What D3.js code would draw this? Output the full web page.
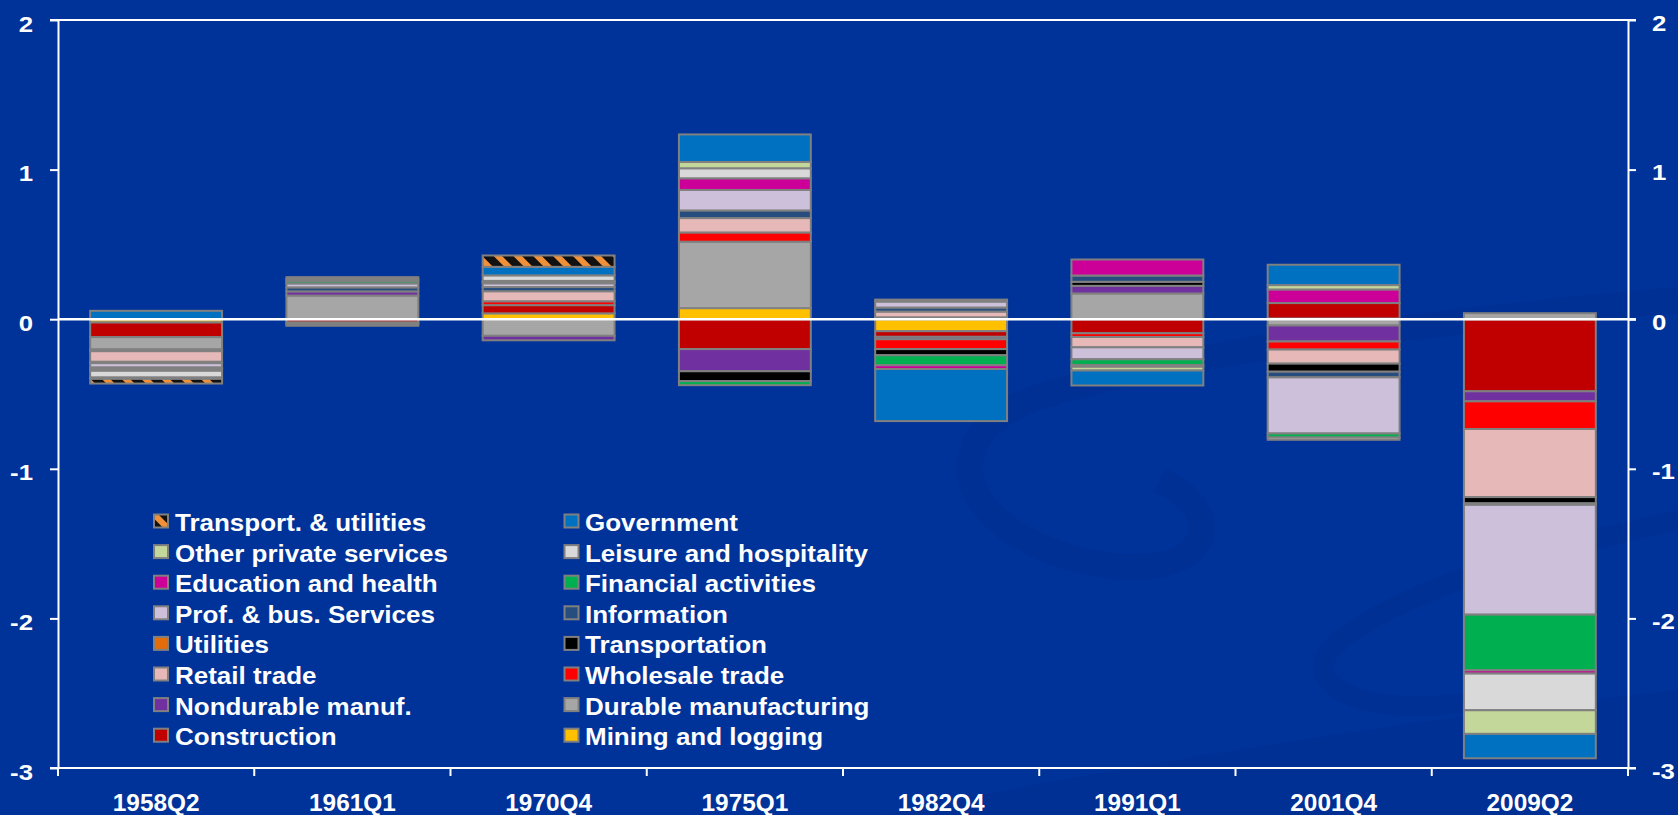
<!DOCTYPE html>
<html>
<head>
<meta charset="utf-8">
<script src="https://cdn.jsdelivr.net/npm/d3@7"></script>
<style>
  html, body { margin: 0; padding: 0; background: #003399; overflow: hidden; }
  svg { display: block; }
  text { font-family: Arial, "Liberation Sans", sans-serif; font-weight: bold; fill: #fff; }
</style>
</head>
<body>
<div id="chart"></div>
<script>
// quarters on the x axis
var quarters = ["1958Q2", "1961Q1", "1970Q4", "1975Q1", "1982Q4", "1991Q1", "2001Q4", "2009Q2"];

// contributions by sector, one value per quarter (percentage points)
var mining         = [-0.022,  0,      0.039,  0.074, -0.080,  0,      0.005,  0];
var construction   = [-0.098, -0.022,  0.055, -0.200, -0.038, -0.094,  0.103, -0.482];
var durable        = [-0.082,  0.158, -0.111,  0.444,  0.013,  0.172, -0.042,  0.040];
var nondurable     = [-0.007,  0.028, -0.030, -0.148, -0.016,  0.051, -0.107, -0.067];
var wholesale      = [-0.005, -0.010,  0.026,  0.062, -0.066, -0.025, -0.054, -0.185];
var retail         = [-0.071,  0,      0.067,  0.096,  0.038, -0.069, -0.094, -0.455];
var transportation = [ 0,      0,      0,     -0.066, -0.041,  0.027, -0.054, -0.042];
var utilities      = [ 0,      0,      0,      0,      0,      0,      0,     -0.004];
var information    = [-0.009,  0.027,  0.028,  0.051,  0.027,  0.042, -0.038, -0.006];
var profBus        = [-0.029,  0.026,  0.025,  0.137,  0.040, -0.080, -0.375, -0.734];
var financial      = [-0.011,  0.016,  0.008, -0.027, -0.067, -0.038, -0.027, -0.372];
var education      = [-0.011,  0.013,  0.008,  0.078, -0.025,  0.107,  0.091, -0.022];
var leisure        = [-0.045, -0.012,  0.037,  0.067,  0.013, -0.012, -0.015, -0.245];
var otherPrivate   = [-0.009,  0.013,  0,      0.042,  0,     -0.025,  0.029, -0.158];
var government     = [ 0.056,  0,      0.057,  0.184, -0.348, -0.100,  0.136, -0.163];
var transportUtil  = [-0.031,  0,      0.076,  0,      0,      0,      0,      0];

// stacking order (first series sits next to zero)
var seriesNames = ["Mining and logging", "Construction", "Durable manufacturing", "Nondurable manuf.",
  "Wholesale trade", "Retail trade", "Transportation", "Utilities", "Information",
  "Prof. & bus. Services", "Financial activities", "Education and health",
  "Leisure and hospitality", "Other private services", "Government", "Transport. & utilities"];
var seriesValues = [mining, construction, durable, nondurable, wholesale, retail, transportation,
  utilities, information, profBus, financial, education, leisure, otherPrivate, government, transportUtil];
var seriesColors = ["#FFC000", "#C00000", "#A6A6A6", "#7030A0", "#FF0000", "#E6B9B8", "#000000",
  "#E46C0A", "#264D7E", "#CCC0DA", "#00B050", "#CC0099", "#D9D9D9", "#C4D79B", "#0070C0", "url(#hatch)"];

// legend columns
var legendLeft = ["Transport. & utilities", "Other private services", "Education and health",
  "Prof. & bus. Services", "Utilities", "Retail trade", "Nondurable manuf.", "Construction"];
var legendRight = ["Government", "Leisure and hospitality", "Financial activities", "Information",
  "Transportation", "Wholesale trade", "Durable manufacturing", "Mining and logging"];

var yTicks = [-3, -2, -1, 0, 1, 2];

var W = 1678, H = 815;
var plot = {left: 58, right: 1628, top: 20, bottom: 768};

var svg = d3.select("#chart").append("svg")
  .attr("width", W)
  .attr("height", H);

var defs = svg.append("defs");
var pat = defs.append("pattern")
  .attr("id", "hatch")
  .attr("patternUnits", "userSpaceOnUse")
  .attr("width", 14).attr("height", 14)
  .attr("patternTransform", "rotate(-45)");
pat.append("rect").attr("width", 14).attr("height", 14).attr("fill", "#111");
pat.append("rect").attr("width", 6).attr("height", 14).attr("fill", "#F0913A");

// background with the faint swirl
svg.append("rect").attr("width", W).attr("height", H).attr("fill", "#003399");
var deco = svg.append("g").attr("fill", "none").attr("stroke", "#002D8C").attr("opacity", 0.45);
deco.append("path")
  .attr("d", "M1678,300 C1450,320 1180,350 1030,400 C930,440 960,530 1080,560 C1200,590 1240,520 1160,480")
  .attr("stroke-width", 26);
deco.append("path")
  .attr("d", "M1678,520 C1500,560 1380,600 1330,650 C1300,690 1380,720 1480,700")
  .attr("stroke-width", 20);
svg.append("path")
  .attr("d", "M880,815 C1100,770 1400,720 1678,690 L1678,815 Z")
  .attr("fill", "#002E8E").attr("opacity", 0.55);

var x = d3.scaleBand()
  .domain(quarters)
  .range([plot.left, plot.right])
  .paddingInner(0.328)
  .paddingOuter(0.164);

var y = d3.scaleLinear()
  .domain([-3, 2])
  .range([plot.bottom, plot.top]);

// rows of data for d3.stack
var rows = quarters.map(function(q, i) {
  var r = {quarter: q};
  seriesNames.forEach(function(s, j) { r[s] = seriesValues[j][i]; });
  return r;
});

var stacked = d3.stack()
  .keys(seriesNames)
  .offset(d3.stackOffsetDiverging)(rows);

var bars = svg.append("g");
stacked.forEach(function(layer, j) {
  bars.append("g")
    .attr("fill", seriesColors[j])
    .selectAll("rect")
    .data(layer.filter(function(d) { return d[1] !== d[0]; }))
    .join("rect")
    .attr("x", function(d) { return x(d.data.quarter); })
    .attr("width", x.bandwidth())
    .attr("y", function(d) { return y(Math.max(d[0], d[1])); })
    .attr("height", function(d) { return Math.abs(y(d[0]) - y(d[1])); })
    .attr("stroke", "#808080")
    .attr("stroke-width", 2);
});

// axes (text is a little wider than plain Arial in the original)
var axisCol = "#fff";
var fmt = function(d) { return String(d); };
var leftAxis = svg.append("g")
  .attr("transform", "translate(" + plot.left + ",0)")
  .call(d3.axisLeft(y).tickValues(yTicks).tickSize(8).tickSizeOuter(0).tickFormat(fmt));
var rightAxis = svg.append("g")
  .attr("transform", "translate(" + plot.right + ",0)")
  .call(d3.axisRight(y).tickValues(yTicks).tickSize(8).tickSizeOuter(0).tickFormat(fmt));
[leftAxis, rightAxis].forEach(function(a, k) {
  a.attr("font-family", null).attr("font-size", null);
  a.select(".domain").attr("stroke", axisCol).attr("stroke-width", 2);
  a.selectAll(".tick line").attr("stroke", axisCol).attr("stroke-width", 2);
  a.selectAll(".tick text")
    .attr("x", 0).attr("y", 0)
    .attr("dy", "0.35em")
    .attr("transform", k === 0 ? "translate(-25,3) scale(1.12,1)" : "translate(24,2) scale(1.12,1)")
    .style("font-size", "23px");
});

// top and bottom frame lines, zero line
[2, -3].forEach(function(v) {
  svg.append("line")
    .attr("x1", plot.left - 8).attr("x2", plot.right + 8)
    .attr("y1", y(v)).attr("y2", y(v))
    .attr("stroke", axisCol).attr("stroke-width", 2);
});
svg.append("line")
  .attr("x1", plot.left).attr("x2", plot.right + 8)
  .attr("y1", y(0)).attr("y2", y(0))
  .attr("stroke", axisCol).attr("stroke-width", 2.5);

// category labels and ticks between bars
var bottomAxis = svg.append("g")
  .attr("transform", "translate(0," + plot.bottom + ")")
  .call(d3.axisBottom(x).tickSize(0));
bottomAxis.select(".domain").remove();
bottomAxis.attr("font-family", null).attr("font-size", null);
bottomAxis.selectAll(".tick text")
  .attr("y", 0).attr("dy", null)
  .attr("transform", "translate(0,43) scale(1.06,1)")
  .style("font-size", "23px");
var edges = quarters.map(function(q) { return x(q) - x.step() * x.paddingInner() / 2; });
edges.push(plot.right);
svg.append("g").selectAll("line")
  .data(edges)
  .join("line")
  .attr("x1", function(d) { return d; }).attr("x2", function(d) { return d; })
  .attr("y1", plot.bottom).attr("y2", plot.bottom + 8)
  .attr("stroke", axisCol).attr("stroke-width", 2);

// legend
function colorOf(name) { return seriesColors[seriesNames.indexOf(name)]; }
function drawLegend(list, sx, tx) {
  var g = svg.append("g");
  var item = g.selectAll("g")
    .data(list)
    .join("g")
    .attr("transform", function(d, i) { return "translate(0," + (523 + i * 30.6) + ")"; });
  item.append("rect")
    .attr("x", sx + 1).attr("y", -8.5)
    .attr("width", 14).attr("height", 13)
    .attr("fill", function(d) { return colorOf(d); })
    .attr("stroke", "#808080").attr("stroke-width", 2);
  item.append("text")
    .attr("x", 0).attr("y", 0)
    .attr("dy", "0.35em")
    .attr("transform", "translate(" + tx + ",0) scale(1.13,1)")
    .style("font-size", "23px")
    .text(function(d) { return d; });
}
drawLegend(legendLeft, 153, 175);
drawLegend(legendRight, 563.5, 585);
</script>
</body>
</html>
